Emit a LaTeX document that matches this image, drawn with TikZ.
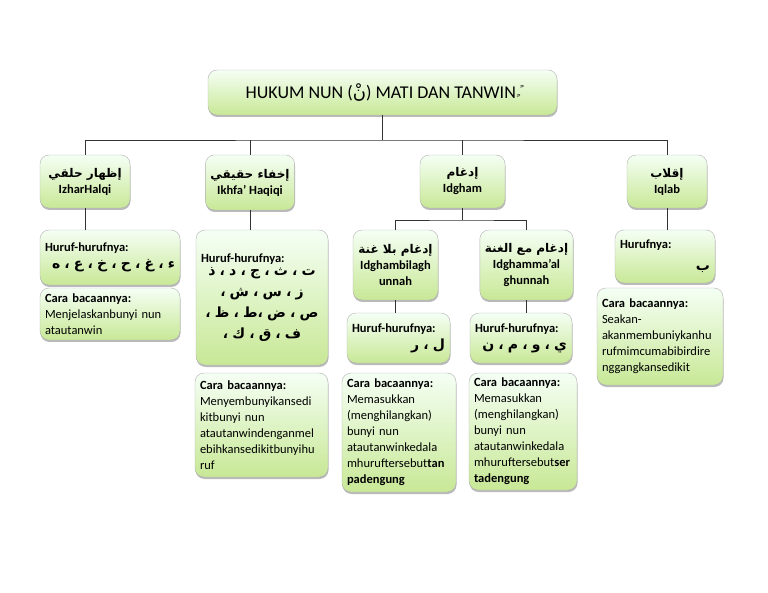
\documentclass[tikz,border=0pt]{standalone}
\usepackage{fontspec}
\setmainfont{Carlito}
\newfontfamily\arfont[Script=Arabic]{DejaVu Sans}
\TeXXeTstate=1
\usetikzlibrary{shadows}
\newcommand{\AR}[1]{\mbox{\arfont\beginR #1\endR}}
\newcommand{\ARB}[1]{\mbox{\arfont\fontsize{14}{17}\selectfont\bfseries\beginR #1\endR}}
\tikzset{
  box/.style={draw=black!30, rounded corners=9pt, top color=green!4!white, bottom color={rgb,255:red,200;green,232;blue,150},
    drop shadow={shadow xshift=0.5pt, shadow yshift=-2pt, fill=black!45, opacity=0.6},
    font=\fontsize{12.5}{16}\selectfont, inner sep=5pt},
  hbox/.style={box, align=center, font=\fontsize{12.5}{16}\selectfont\bfseries},
  lbox/.style={box, align=left},
  conn/.style={draw=black!80, line width=0.8pt},
}
\begin{document}
\begin{tikzpicture}[x=1pt,y=-1pt]
\useasboundingbox (0,0) rectangle (768,593);
\node[box, minimum width=349pt, minimum height=45pt, font=\fontsize{18}{20}\selectfont] (title) at (382.5,92.5)
  {HUKUM NUN (\AR{نْ}) MATI DAN TANWIN\raisebox{4pt}{\AR{\fontsize{11}{11}\selectfont ً ٍ}}};
% level 1
\node[hbox, minimum width=90pt, minimum height=53pt] (izhar) at (85,181.5) {\AR{\fontsize{12}{14}\selectfont إظهار حلقي}\\IzharHalqi};
\node[hbox, minimum width=84pt, minimum height=55pt] (ikhfa) at (250,182.5) {\AR{\fontsize{12}{14}\selectfont إخفاء حقيقي}\\Ikhfa’ Haqiqi};
\node[hbox, minimum width=85pt, minimum height=53pt] (idgham) at (462.5,181.5) {\AR{\fontsize{12}{14}\selectfont إدغام}\\Idgham};
\node[hbox, minimum width=80pt, minimum height=53pt] (iqlab) at (667,181.5) {\AR{\fontsize{12}{14}\selectfont إقلاب}\\Iqlab};
% Izhar children
\node[lbox, minimum width=140pt, minimum height=55pt, text width=130pt] (izharH) at (110,257.5)
  {\textbf{Huruf-hurufnya:}\\[1pt]\hfill\ARB{ء ، غ ، ح ، خ ، ع ، ه}};
\node[lbox, minimum width=140pt, minimum height=52pt, text width=130pt] (izharC) at (110,314)
  {\textbf{Cara bacaannya:}\\Menjelaskanbunyi nun\\atautanwin};
% Ikhfa children
\node[lbox, minimum width=132pt, minimum height=135pt, text width=122pt] (ikhfaH) at (262,297.5)
  {\textbf{Huruf-hurufnya:}\\[2pt]
  \parbox{122pt}{\centering\fontsize{15}{21}\selectfont
  \ARB{ت ، ث ، ج ، د ، ذ}\\ \ARB{ز ، س ، ش ،}\\ \ARB{ص ، ض ،ط ، ظ ،}\\ \ARB{ف ، ق ، ك ،}}};
\node[lbox, minimum width=133pt, minimum height=104pt, text width=123pt] (ikhfaC) at (261.5,425)
  {\textbf{Cara bacaannya:}\\Menyembunyikansedi\\kitbunyi nun\\atautanwindenganmel\\ebihkansedikitbunyihu\\ruf};
% Idgham children
\node[hbox, minimum width=85pt, minimum height=70pt] (bila) at (395.5,265) {\AR{\fontsize{12}{14}\selectfont إدغام بلا غنة}\\Idghambilagh\\unnah};
\node[hbox, minimum width=87pt, minimum height=70pt] (maal) at (526.5,265) {\AR{\fontsize{12}{14}\selectfont إدغام مع الغنة}\\Idghamma’al\\ghunnah};
\node[lbox, minimum width=103pt, minimum height=50pt, text width=93pt] (bilaH) at (398.5,338)
  {\textbf{Huruf-hurufnya:}\\[1pt]\hfill\ARB{ل ، ر}};
\node[lbox, minimum width=102pt, minimum height=50pt, text width=92pt] (maalH) at (521,338)
  {\textbf{Huruf-hurufnya:}\\[1pt]\hfill\ARB{ي ، و ، م ، ن}};
\node[lbox, minimum width=114pt, minimum height=119pt, text width=104pt] (bilaC) at (399,432.5)
  {\textbf{Cara bacaannya:}\\Memasukkan\\(menghilangkan)\\bunyi nun\\atautanwinkedala\\mhuruftersebut\textbf{tan}\\\textbf{padengung}};
\node[lbox, minimum width=108pt, minimum height=117pt, text width=98pt] (maalC) at (523,431.5)
  {\textbf{Cara bacaannya:}\\Memasukkan\\(menghilangkan)\\bunyi nun\\atautanwinkedala\\mhuruftersebut\textbf{ser}\\\textbf{tadengung}};
% Iqlab children
\node[lbox, minimum width=100pt, minimum height=53pt, text width=90pt] (iqlabH) at (665,256.5)
  {\textbf{Hurufnya:}\\[6pt]\hfill\ARB{ب}};
\node[lbox, minimum width=126pt, minimum height=97pt, text width=116pt] (iqlabC) at (660,336.5)
  {\textbf{Cara bacaannya:}\\Seakan-\\akanmembuniykanhu\\rufmimcumabibirdire\\nggangkansedikit};
% connectors
\coordinate (bus) at (382.5,140);
\coordinate (bus2) at (462.5,220);
\draw[conn] (title.south) -- (bus);
\draw[conn] (izhar.north) |- (bus) -| (iqlab.north);
\draw[conn] (ikhfa.north) -- (ikhfa.north |- bus);
\draw[conn] (idgham.north) -- (idgham.north |- bus);
\draw[conn] (idgham.south) -- (bus2);
\draw[conn] (bila.north) |- (bus2) -| (maal.north);
\draw[conn] (izhar.south) -- (izhar.south |- izharH.north);
\draw[conn] (ikhfa.south) -- (ikhfa.south |- ikhfaH.north);
\draw[conn] (iqlab.south) -- (iqlab.south |- iqlabH.north);
\draw[conn] (bila.south) -- (bila.south |- bilaH.north);
\draw[conn] (maal.south) -- (maal.south |- maalH.north);
\end{tikzpicture}
\end{document}
